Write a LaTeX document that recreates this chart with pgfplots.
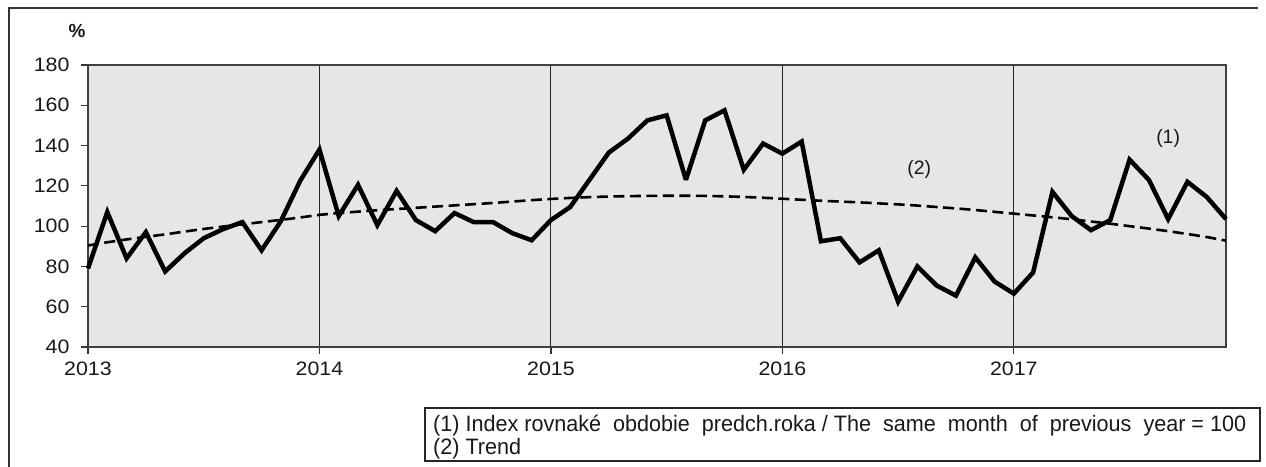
\documentclass[border=0pt]{standalone}
\usepackage{fontspec}
\setmainfont{Liberation Sans}
\usepackage{graphicx}
\usepackage{pgfplots}
\pgfplotsset{compat=1.18}
\definecolor{bgc}{RGB}{230,230,230}
\definecolor{txt}{RGB}{25,25,25}
\pgfplotstableread{
i v
0 79
1 107
2 84
3 97
4 77.5
5 86.5
6 94
7 98.5
8 102
9 88
10 102.5
11 122.5
12 138
13 105
14 120.5
15 100.5
16 117.5
17 103
18 97.5
19 106.5
20 102
21 102
22 96.5
23 93
24 103
25 109.5
26 123
27 136.5
28 143.5
29 152.5
30 155
31 123
32 152.5
33 157.5
34 128
35 141
36 136
37 142
38 92.5
39 94
40 82
41 88
42 62.5
43 80
44 70.5
45 65.5
46 84.5
47 72.5
48 66.5
49 77
50 117
51 105
52 98
53 103
54 133
55 123
56 103.5
57 122
58 114.5
59 103.5
}\indexdata
\pgfplotstableread{
i v
0 90.4
1 92
2 93.4
3 94.7
4 95.9
5 97.3
6 98.6
7 99.8
8 100.9
9 102
10 103.1
11 104.3
12 105.6
13 106.5
14 107.2
15 107.9
16 108.5
17 109.1
18 109.7
19 110.3
20 110.9
21 111.5
22 112.2
23 112.9
24 113.5
25 114
26 114.4
27 114.7
28 114.9
29 115
30 115.1
31 115.1
32 115
33 114.8
34 114.5
35 114.1
36 113.6
37 113.1
38 112.6
39 112.2
40 111.8
41 111.3
42 110.8
43 110.2
44 109.5
45 108.8
46 108
47 107.1
48 106.2
49 105.3
50 104.4
51 103.4
52 102.3
53 101.2
54 100
55 98.8
56 97.5
57 96.1
58 94.6
59 92.8
}\trenddata
\newsavebox\legbox
\begin{document}
\sbox\legbox{\fontsize{22.4}{23}\selectfont\color{txt}\begin{tabular}{@{}l@{}}(1) Index rovnaké\ \ obdobie\ \ predch.roka / The\ \ same\ \ month\ \ of\ \ previous\ \ year = 100\\(2) Trend\end{tabular}}%
\pgfmathsetmacro\legsx{813*1.00375/(\wd\legbox/1pt)}%
\begin{tikzpicture}
\useasboundingbox (0,0) rectangle (1266bp,467bp);
\fill[white] (0,0) rectangle (1266bp,467bp);
\draw[line width=1.5bp, black!80] (9bp,-5bp) -- (9bp,459bp) -- (1258bp,459bp);
\node[font=\fontsize{19}{19}\selectfont\bfseries, text=txt] at (77bp,436bp) {\%};
\begin{axis}[
  at={(88bp,120bp)}, anchor=south west,
  scale only axis, width=1138bp, height=282bp,
  xmin=0, xmax=59, ymin=40, ymax=180,
  xtick={0,12,24,36,48}, xticklabels={2013,2014,2015,2016,2017},
  ytick={40,60,...,180},
  xtick pos=bottom, ytick pos=left,
  axis background/.style={fill=bgc},
  xmajorgrids, grid style={black!85, line width=1bp},
  tick align=outside, major tick length=7bp,
  axis line style={black!75, line width=1.4bp},
  tick style={black!80, line width=1.2bp},
  tick label style={font=\fontsize{19.5}{19.5}\selectfont, text=txt, xscale=1.1},
  /pgf/number format/assume math mode=true,
  yticklabel style={xshift=-7bp},
  xticklabel style={yshift=-4bp},
  clip=false,
]
\addplot[black, line width=4.5bp, line join=miter, miter limit=3] table[x=i,y=v] {\indexdata};
\addplot[black, line width=2.6bp, dash pattern=on 11bp off 5.5bp] table[x=i,y=v] {\trenddata};
\node[font=\fontsize{19.5}{19.5}\selectfont, text=txt] at (axis cs:43.1,127.9) {(2)};
\node[font=\fontsize{19.5}{19.5}\selectfont, text=txt] at (axis cs:56,143.3) {(1)};
\end{axis}
\draw[line width=1.4bp, black!85] (425bp,6bp) rectangle (1260bp,59bp);
\node[anchor=north west, inner sep=0pt] at (433bp,52bp) {\scalebox{\legsx}[1]{\usebox\legbox}};
\end{tikzpicture}
\end{document}
